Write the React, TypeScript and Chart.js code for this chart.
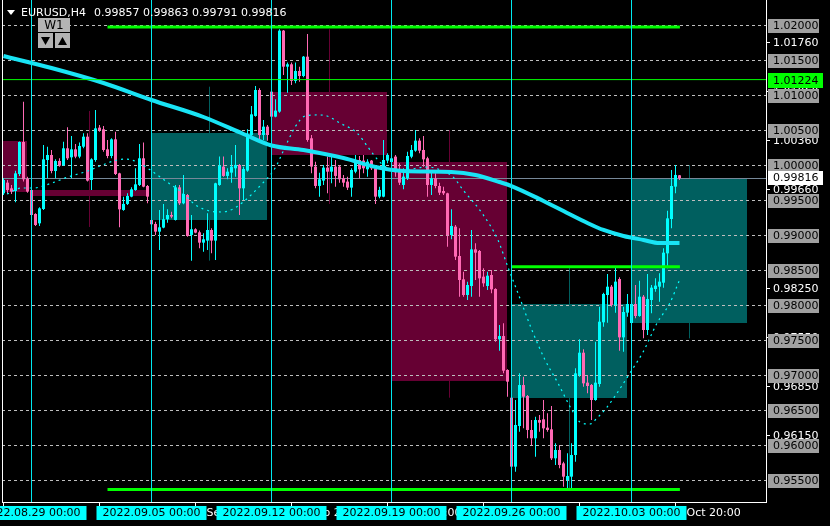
import React, { useEffect, useRef } from 'react';
import { Chart, registerables } from 'chart.js';

Chart.register(...registerables);

// ---- H4 candles (index 0 = 25 Aug 20:00, index 169 = 5 Oct 00:00) ----
const opens = [
  0.99600, 0.99752, 0.99671, 0.99633, 0.99876, 1.00333, 0.99809, 0.99647, 0.99304, 0.99171,
  0.99376, 1.00076, 1.00147, 0.99919, 1.00062, 1.00000, 1.00243, 1.00114, 1.00228, 1.00124,
  1.00266, 1.00409, 0.99790, 1.00076, 1.00538, 1.00514, 1.00228, 1.00133, 1.00371, 0.99885,
  0.99362, 0.99448, 0.99552, 0.99647, 0.99719, 1.00100, 0.99704, 0.99219, 0.99162, 0.99052,
  0.99110, 0.99229, 0.99290, 0.99219, 0.99685, 0.99457, 0.99576, 0.99005, 0.99086, 0.99043,
  0.98895, 0.98924, 0.99076, 0.98924, 0.99719, 0.99981, 0.99848, 0.99895, 0.99957, 1.00005,
  0.99671, 0.99924, 1.00433, 1.00705, 1.01076, 1.00433, 1.00552, 1.01052, 1.00695, 1.00767,
  1.01924, 1.01409, 1.01443, 1.01205, 1.01347, 1.01276, 1.01552, 1.00386, 0.99981, 0.99705,
  0.99781, 0.99967, 0.99909, 0.99981, 0.99981, 0.99814, 0.99767, 0.99681, 0.99909, 1.00076,
  1.00067, 0.99943, 1.00067, 0.99957, 0.99552, 0.99552, 1.00067, 1.00047, 1.00124, 0.99942,
  0.99719, 0.99814, 1.00123, 1.00209, 1.00352, 1.00219, 1.00100, 0.99719, 0.99814, 0.99704,
  0.99633, 0.99600, 0.99004, 0.99123, 0.98704, 0.98371, 0.98147, 0.98276, 0.98799, 0.98776,
  0.98409, 0.98276, 0.98433, 0.98233, 0.97514, 0.97561, 0.97076, 0.96680, 0.95695, 0.96276,
  0.96861, 0.96704, 0.96219, 0.96100, 0.96361, 0.96371, 0.96252, 0.96228, 0.95814, 0.95933,
  0.95742, 0.95504, 0.95552, 0.95861, 0.97004, 0.97323, 0.96895, 0.96862, 0.96647, 0.96876,
  0.97757, 0.98147, 0.98266, 0.98004, 0.98376, 0.97542, 0.97895, 0.97747, 0.98019, 0.97847,
  0.98123, 0.97647, 0.98076, 0.98233, 0.98266, 0.98323, 0.98742, 0.99233, 0.99695, 0.99857,
];
const highs = [
  0.99814, 0.99790, 0.99719, 0.99923, 1.00340, 1.00909, 0.99838, 0.99657, 0.99314, 0.99400,
  1.00290, 1.00266, 1.00219, 1.00085, 1.00100, 1.00338, 1.00543, 1.00419, 1.00305, 1.00324,
  1.00457, 1.00457, 1.00100, 1.00790, 1.00576, 1.00562, 1.00362, 1.00386, 1.00481, 0.99895,
  0.99552, 0.99600, 0.99685, 0.99957, 1.00305, 1.00324, 0.99719, 0.99229, 0.99195, 0.99362,
  0.99448, 0.99371, 0.99338, 0.99719, 0.99719, 0.99862, 0.99590, 0.99290, 0.99100, 0.99067,
  0.99028, 0.99314, 0.99100, 0.99752, 1.00124, 1.00124, 0.99957, 1.00148, 1.00290, 1.00019,
  0.99981, 1.00514, 1.00847, 1.01133, 1.01100, 1.00647, 1.00576, 1.01067, 1.00943, 1.01943,
  1.01933, 1.01467, 1.01467, 1.01467, 1.01409, 1.01562, 1.01876, 1.00433, 1.00052, 0.99895,
  1.00005, 1.00124, 1.00124, 1.00076, 1.00005, 0.99862, 0.99838, 0.99957, 1.00148, 1.00133,
  1.00148, 1.00086, 1.00076, 0.99981, 0.99695, 1.00362, 1.00171, 1.00148, 1.00148, 1.00028,
  0.99957, 1.00195, 1.00290, 1.00504, 1.00385, 1.00419, 1.00123, 0.99909, 0.99885, 0.99752,
  0.99695, 0.99609, 0.99371, 0.99147, 0.99100, 0.98480, 0.98338, 0.99076, 0.98885, 0.98790,
  0.98528, 0.98480, 0.98504, 0.98242, 0.97719, 0.97742, 0.97085, 0.96695, 0.96647, 0.97028,
  0.96980, 0.96719, 0.96361, 0.96409, 0.96433, 0.96647, 0.96457, 0.96561, 0.96028, 0.96004,
  0.95766, 0.95885, 0.96028, 0.97099, 0.97514, 0.97371, 0.97004, 0.96876, 0.97481, 0.97981,
  0.98181, 0.98447, 0.98290, 0.98543, 0.98400, 0.97981, 0.98162, 0.98028, 0.98290, 0.98352,
  0.98147, 0.98447, 0.98290, 0.98385, 0.98457, 0.98814, 0.99352, 0.99933, 1.00004, 0.99863,
];
const lows = [
  0.99576, 0.99590, 0.99590, 0.99471, 0.99847, 0.99767, 0.99609, 0.99266, 0.99133, 0.99133,
  0.99362, 0.99814, 0.99885, 0.99814, 0.99981, 0.99990, 1.00076, 0.99814, 1.00100, 1.00100,
  1.00243, 0.99767, 0.99647, 1.00052, 1.00481, 1.00195, 1.00100, 1.00100, 0.99862, 0.99114,
  0.99352, 0.99433, 0.99543, 0.99638, 0.99704, 0.99685, 0.99457, 0.99147, 0.99004, 0.98790,
  0.99100, 0.99181, 0.99243, 0.99210, 0.99433, 0.99443, 0.98981, 0.98638, 0.99028, 0.98814,
  0.98766, 0.98790, 0.98743, 0.98647, 0.99709, 0.99838, 0.99800, 0.99752, 0.99838, 0.99290,
  0.99505, 0.99909, 1.00419, 1.00695, 1.00362, 1.00362, 1.00352, 1.00671, 1.00686, 1.00752,
  1.01290, 1.01038, 1.01148, 1.01171, 1.01195, 1.01257, 1.00338, 0.99886, 0.99671, 0.99552,
  0.99719, 0.99600, 0.99743, 0.99695, 0.99752, 0.99695, 0.99648, 0.99552, 0.99886, 0.99814,
  0.99886, 0.99838, 0.99933, 0.99448, 0.99529, 0.99543, 1.00029, 0.99909, 0.99838, 0.99719,
  0.99657, 0.99790, 1.00100, 1.00195, 1.00171, 0.99981, 0.99552, 0.99576, 0.99671, 0.99576,
  0.99576, 0.98838, 0.98942, 0.98647, 0.98123, 0.98123, 0.98076, 0.98123, 0.98361, 0.98123,
  0.98266, 0.98219, 0.98171, 0.97480, 0.97352, 0.97028, 0.96695, 0.95671, 0.95623, 0.96195,
  0.96242, 0.96100, 0.96004, 0.95838, 0.96195, 0.96100, 0.96195, 0.95790, 0.95719, 0.95671,
  0.95409, 0.95385, 0.95385, 0.95766, 0.96980, 0.96838, 0.96742, 0.96361, 0.96638, 0.96838,
  0.97695, 0.97752, 0.97981, 0.97895, 0.97352, 0.97338, 0.97838, 0.97719, 0.97814, 0.97838,
  0.97528, 0.97576, 0.97885, 0.98195, 0.98052, 0.98252, 0.98528, 0.99100, 0.99600, 0.99791,
];
const closes = [
  0.99790, 0.99647, 0.99624, 0.99885, 1.00333, 0.99800, 0.99624, 0.99290, 0.99147, 0.99385,
  1.00085, 1.00147, 0.99919, 1.00062, 0.99995, 1.00243, 1.00100, 1.00228, 1.00124, 1.00276,
  1.00409, 0.99781, 1.00085, 1.00528, 1.00504, 1.00219, 1.00133, 1.00371, 0.99876, 0.99371,
  0.99448, 0.99562, 0.99657, 0.99728, 1.00100, 0.99695, 0.99552, 0.99157, 0.99052, 0.99114,
  0.99229, 0.99290, 0.99267, 0.99685, 0.99457, 0.99590, 0.98990, 0.99086, 0.99038, 0.98895,
  0.98943, 0.99076, 0.98924, 0.99743, 0.99995, 0.99848, 0.99909, 0.99981, 1.00005, 0.99671,
  0.99947, 1.00433, 1.00728, 1.01076, 1.00433, 1.00552, 1.00433, 1.00695, 1.00781, 1.01924,
  1.01409, 1.01443, 1.01205, 1.01347, 1.01276, 1.01552, 1.00362, 0.99981, 0.99705, 0.99800,
  0.99967, 0.99909, 0.99981, 0.99848, 0.99800, 0.99752, 0.99681, 0.99933, 1.00076, 0.99943,
  0.99957, 1.00052, 0.99957, 0.99552, 0.99648, 1.00076, 1.00148, 1.00100, 0.99900, 0.99752,
  0.99838, 1.00133, 1.00219, 1.00352, 1.00209, 1.00085, 0.99719, 0.99814, 0.99704, 0.99609,
  0.99600, 0.99004, 0.99133, 0.98695, 0.98361, 0.98147, 0.98290, 0.98799, 0.98752, 0.98385,
  0.98314, 0.98423, 0.98228, 0.97514, 0.97561, 0.97066, 0.96909, 0.95695, 0.96290, 0.96861,
  0.96695, 0.96219, 0.96100, 0.96361, 0.96323, 0.96242, 0.96219, 0.95814, 0.95933, 0.95719,
  0.95552, 0.95561, 0.95861, 0.97028, 0.97323, 0.96885, 0.96847, 0.96647, 0.96895, 0.97766,
  0.98162, 0.98266, 0.98004, 0.98338, 0.97542, 0.97904, 0.98019, 0.98019, 0.97847, 0.98123,
  0.97647, 0.98090, 0.98252, 0.98281, 0.98338, 0.98752, 0.99242, 0.99704, 0.99862, 0.99816,
];

// ---- Weekly (W1) candles overlay ----
const weekStarts = [-23, 7, 37, 67, 97, 127, 157];
const weekOpens = [1.00347, 0.99647, 0.99219, 1.01052, 1.00047, 0.96680, 0.97747];
const weekHighs = [1.00900, 1.00776, 1.01123, 1.01943, 1.00504, 0.98553, 1.00004];
const weekLows = [0.99000, 0.99119, 0.98638, 0.99447, 0.96680, 0.95385, 0.97528];
const weekCloses = [0.99624, 0.99567, 1.00461, 1.00148, 0.96924, 0.98019, 0.99816];
const weekLabels = ['', '2022.08.29 00:00', '2022.09.05 00:00', '2022.09.12 00:00', '2022.09.19 00:00', '2022.09.26 00:00', '2022.10.03 00:00'];

// ---- Moving average (thick) ----
const maIdx = [0, 12, 25, 37, 50, 60, 67, 75, 85, 93, 100, 112, 118, 124, 127, 135, 140, 146, 150, 155, 160, 164, 169];
const maVals = [1.01561, 1.01390, 1.01176, 1.00933, 1.00690, 1.00447, 1.00283, 1.00219, 1.00104, 0.99976, 0.99919, 0.99904, 0.99861, 0.99761, 0.99704, 0.99490, 0.99347, 0.99176, 0.99076, 0.98990, 0.98933, 0.98890, 0.98890];

// ---- Dotted curve ----
const curveIdx = [0.9, 4.6, 7.4, 12.1, 16.1, 21.1, 24.1, 28.4, 30.6, 33.9, 37.4, 40.9, 44.1, 48.4, 51.6, 54.6, 57.4, 59.9, 64.1, 67.9, 70.4, 72.9, 75.4, 78.4, 80.9, 84.1, 88.4, 91.1, 93.6, 96.1, 99.6, 106.1, 108.6, 112.4, 114.9, 119.6, 123.6, 126.1, 128.6, 132.1, 135.4, 138.6, 142.1, 144.1, 146.6, 148.4, 150.9, 153.4, 157.1, 159.9, 163.4, 166.6, 168.9];
const curveVals = [0.99590, 0.99676, 0.99676, 0.99747, 0.99833, 0.99919, 0.99990, 1.00076, 1.00090, 1.00033, 0.99904, 0.99761, 0.99633, 0.99419, 0.99347, 0.99333, 0.99376, 0.99476, 0.99704, 0.99961, 1.00261, 1.00547, 1.00704, 1.00719, 1.00704, 1.00604, 1.00461, 1.00261, 1.00076, 0.99961, 0.99933, 0.99976, 0.99947, 0.99833, 0.99647, 0.99319, 0.98933, 0.98547, 0.98176, 0.97647, 0.97219, 0.96890, 0.96504, 0.96333, 0.96304, 0.96390, 0.96547, 0.96747, 0.97076, 0.97333, 0.97747, 0.98033, 0.98347];

// ---- Horizontal levels ----
const levelTop = 1.01975;
const levelBottom = 0.95369;
const levelMid = 0.98551;
const levelAlert = 1.01224;
const levelSpanTop = [26, 169.1];
const levelSpanMid = [127, 169.1];

// ---- Axis labels ----
const gridLevels = [1.02, 1.015, 1.01, 1.005, 1.0, 0.995, 0.99, 0.985, 0.98, 0.975, 0.97, 0.965, 0.96, 0.955];
const scaleLabels = [1.0176, 1.0106, 1.0036, 0.9966, 0.9825, 0.9755, 0.9685, 0.9615];
const timeTickIdx = [0, 24, 48, 72, 96, 120, 144, 168];
const timeTickLabels = ['25 Aug 20:00', '31 Aug 20:00', '6 Sep 20:00', '12 Sep 20:00', '16 Sep 20:00', '22 Sep 20:00', '28 Sep 20:00', '4 Oct 20:00'];

const BULL = '#00FFFF';
const BEAR = '#FF69B4';
const TEAL = '#005F5F';
const MAROON = '#660033';
const GREEN = '#00FF00';
const GRID = '#BEBEBE';
const BIDLINE = '#778899';
const SEP = '#00E8F0';
const MA_COLOR = '#19E4F5';
const FONT = '11px "DejaVu Sans"';
const WEEK_SPAN = 29;

const mt4Plugin = {
  id: 'mt4',
  beforeDatasetsDraw(chart: any) {
    const { ctx, chartArea: a, scales } = chart;
    const xs = scales.x;
    const ys = scales.y;
    ctx.save();
    ctx.beginPath();
    ctx.rect(a.left, a.top, a.right - a.left, a.bottom - a.top);
    ctx.clip();
    weekStarts.forEach((s, k) => {
      const col = weekCloses[k] >= weekOpens[k] ? TEAL : MAROON;
      const x0 = Math.floor(xs.getPixelForValue(s));
      const x1 = Math.floor(xs.getPixelForValue(s + WEEK_SPAN));
      const yo = ys.getPixelForValue(weekOpens[k]);
      const yc = ys.getPixelForValue(weekCloses[k]);
      ctx.fillStyle = col;
      ctx.fillRect(x0, Math.round(Math.min(yo, yc)), x1 - x0, Math.max(1, Math.round(Math.abs(yc - yo))));
      const xm = Math.floor(xs.getPixelForValue(s + WEEK_SPAN / 2)) + 0.5;
      ctx.strokeStyle = col;
      ctx.lineWidth = 1;
      ctx.beginPath();
      ctx.moveTo(xm, ys.getPixelForValue(weekHighs[k]));
      ctx.lineTo(xm, ys.getPixelForValue(weekLows[k]));
      ctx.stroke();
    });
    ctx.strokeStyle = GRID;
    ctx.lineWidth = 1;
    ctx.setLineDash([3, 3]);
    gridLevels.forEach((v) => {
      const py = Math.round(ys.getPixelForValue(v)) + 0.5;
      ctx.beginPath();
      ctx.moveTo(a.left, py);
      ctx.lineTo(a.right, py);
      ctx.stroke();
    });
    ctx.setLineDash([]);
    const bid = closes[closes.length - 1];
    const pb = Math.round(ys.getPixelForValue(bid)) + 0.5;
    ctx.strokeStyle = BIDLINE;
    ctx.beginPath();
    ctx.moveTo(a.left, pb);
    ctx.lineTo(a.right, pb);
    ctx.stroke();
    ctx.restore();
  },
  afterDatasetsDraw(chart: any) {
    const { ctx, chartArea: a, scales } = chart;
    const xs = scales.x;
    ctx.save();
    ctx.fillStyle = SEP;
    weekStarts.slice(1).forEach((s) => {
      const px = Math.floor(xs.getPixelForValue(s));
      ctx.fillRect(px, a.top, 1, a.bottom - a.top);
    });
    ctx.restore();
  },
  afterDraw(chart: any) {
    const { ctx, chartArea: a, scales } = chart;
    const xs = scales.x;
    const ys = scales.y;
    ctx.save();
    // borders
    ctx.fillStyle = '#FFFFFF';
    ctx.fillRect(a.left, a.top, 1, a.bottom - a.top + 1);
    ctx.fillRect(a.right, a.top, 1, a.bottom - a.top + 1);
    ctx.fillRect(a.left, a.bottom, a.right - a.left + 1, 1);

    ctx.font = FONT;
    ctx.textBaseline = 'middle';
    ctx.textAlign = 'left';
    const lx = a.right + 7;
    // automatic price scale labels
    scaleLabels.forEach((v) => {
      const py = Math.round(ys.getPixelForValue(v));
      ctx.fillStyle = '#FFFFFF';
      ctx.fillRect(a.right + 1, py, 3, 1);
      ctx.fillText(v.toFixed(5), lx, py + 1);
    });
    // grid level labels (gray boxes)
    gridLevels.forEach((v) => {
      const py = Math.round(ys.getPixelForValue(v));
      ctx.fillStyle = '#A0A0A0';
      ctx.fillRect(a.right + 2, py - 6, 51, 14);
      ctx.fillStyle = '#000000';
      ctx.fillText(v.toFixed(5), lx, py + 1);
    });
    // alert level label
    {
      const py = Math.round(ys.getPixelForValue(levelAlert));
      ctx.fillStyle = GREEN;
      ctx.fillRect(a.right + 2, py - 7, 55, 15);
      ctx.fillStyle = '#000000';
      ctx.fillText(levelAlert.toFixed(5), lx, py + 1);
    }
    // bid label
    {
      const bid = closes[closes.length - 1];
      const py = Math.round(ys.getPixelForValue(bid));
      ctx.fillStyle = '#FFFFFF';
      ctx.fillRect(a.right + 2, py - 7, 55, 14);
      ctx.fillStyle = '#000000';
      ctx.fillText(bid.toFixed(5), lx, py);
    }

    // time axis
    const ty = a.bottom + 11;
    ctx.fillStyle = '#FFFFFF';
    timeTickIdx.forEach((i, k) => {
      const px = Math.floor(xs.getPixelForValue(i));
      ctx.fillRect(px, a.bottom + 1, 1, 4);
      ctx.fillText(timeTickLabels[k], px + 1, ty);
    });
    ctx.textAlign = 'center';
    weekStarts.forEach((s, k) => {
      if (!weekLabels[k]) return;
      const px = Math.floor(xs.getPixelForValue(s)) + 0.5;
      ctx.fillStyle = '#00FFFF';
      ctx.fillRect(px - 55, a.bottom + 4, 110, 14);
      ctx.fillStyle = '#000000';
      ctx.fillText(weekLabels[k], px, ty);
    });

    // header
    ctx.textAlign = 'left';
    ctx.fillStyle = '#FFFFFF';
    ctx.beginPath();
    ctx.moveTo(7, 10);
    ctx.lineTo(15, 10);
    ctx.lineTo(11, 15);
    ctx.closePath();
    ctx.fill();
    const last = closes.length - 1;
    ctx.fillText('EURUSD,H4', 21, 13);
    ctx.fillText(
      [opens[last], highs[last], lows[last], closes[last]].map((v) => v.toFixed(5)).join(' '),
      94,
      13
    );

    // W1 button
    ctx.fillStyle = '#B4B4B4';
    ctx.fillRect(38, 18, 32, 14);
    ctx.fillRect(38, 33, 15, 15);
    ctx.fillRect(55, 33, 15, 15);
    ctx.fillStyle = '#000000';
    ctx.textAlign = 'center';
    ctx.font = '12px "DejaVu Sans"';
    ctx.fillText('W1', 54, 25.5);
    ctx.beginPath();
    ctx.moveTo(41, 37);
    ctx.lineTo(50, 37);
    ctx.lineTo(45.5, 45);
    ctx.closePath();
    ctx.fill();
    ctx.beginPath();
    ctx.moveTo(58, 45);
    ctx.lineTo(67, 45);
    ctx.lineTo(62.5, 37);
    ctx.closePath();
    ctx.fill();
    ctx.restore();
  },
};

export default function App() {
  const ref = useRef<HTMLCanvasElement>(null);
  useEffect(() => {
    const canvas = ref.current;
    if (!canvas) return;
    const idx = opens.map((_, i) => i);
    const colors = idx.map((i) => (closes[i] >= opens[i] ? BULL : BEAR));
    const hline = (span: number[], v: number) => [
      { x: span[0], y: v },
      { x: span[1], y: v },
    ];
    const chart = new Chart(canvas, {
      type: 'bar',
      data: {
        datasets: [
          {
            type: 'line',
            label: 'alert',
            data: hline([-1, 192], levelAlert),
            borderColor: GREEN,
            borderWidth: 1,
            pointRadius: 0,
            order: 1,
          } as any,
          {
            type: 'line',
            label: 'top',
            data: hline(levelSpanTop, levelTop),
            borderColor: GREEN,
            borderWidth: 3,
            pointRadius: 0,
            order: 2,
          } as any,
          {
            type: 'line',
            label: 'bottom',
            data: hline(levelSpanTop, levelBottom),
            borderColor: GREEN,
            borderWidth: 3,
            pointRadius: 0,
            order: 2,
          } as any,
          {
            type: 'line',
            label: 'mid',
            data: hline(levelSpanMid, levelMid),
            borderColor: GREEN,
            borderWidth: 3,
            pointRadius: 0,
            order: 2,
          } as any,
          {
            type: 'line',
            label: 'MA',
            data: maIdx.map((i, k) => ({ x: i, y: maVals[k] })),
            borderColor: MA_COLOR,
            borderWidth: 4,
            pointRadius: 0,
            cubicInterpolationMode: 'monotone',
            order: 5,
          } as any,
          {
            type: 'line',
            label: 'curve',
            data: curveIdx.map((i, k) => ({ x: i, y: curveVals[k] })),
            borderColor: '#00FFFF',
            borderWidth: 1.2,
            borderDash: [2, 4],
            pointRadius: 0,
            cubicInterpolationMode: 'monotone',
            order: 6,
          } as any,
          {
            type: 'bar',
            label: 'bodies',
            data: idx.map((i) => ({ x: i, y: [opens[i], closes[i]] })),
            backgroundColor: colors,
            barThickness: 3,
            grouped: false,
            minBarLength: 1,
            inflateAmount: 0,
            order: 9,
          } as any,
          {
            type: 'bar',
            label: 'wicks',
            data: idx.map((i) => ({ x: i, y: [lows[i], highs[i]] })),
            backgroundColor: colors,
            barThickness: 1,
            grouped: false,
            inflateAmount: 0,
            order: 10,
          } as any,
        ],
      },
      options: {
        responsive: false,
        animation: false,
        devicePixelRatio: 1,
        events: [],
        layout: { padding: { left: 2, right: 64, top: 0, bottom: 24 } },
        plugins: { legend: { display: false }, tooltip: { enabled: false } },
        scales: {
          x: { type: 'linear', display: false, min: -0.375, max: 190.625, offset: false, bounds: 'data' },
          y: { type: 'linear', display: false, min: 0.9519, max: 1.023614, beginAtZero: false, bounds: 'data' },
        },
      } as any,
      plugins: [mt4Plugin],
    });
    return () => chart.destroy();
  }, []);
  return (
    <div style={{ position: 'fixed', left: 0, top: 0, width: 830, height: 526, background: '#000000' }}>
      <canvas ref={ref} width={830} height={526} style={{ display: 'block' }} />
    </div>
  );
}
